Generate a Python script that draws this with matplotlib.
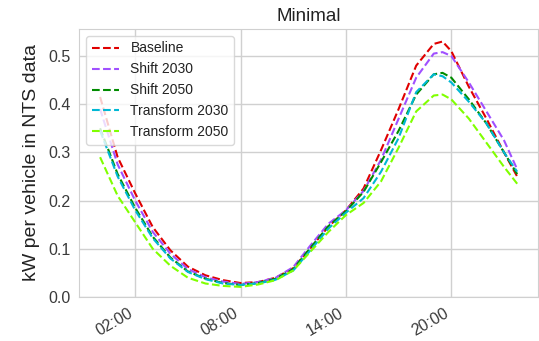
import matplotlib
matplotlib.use("Agg")
import matplotlib.pyplot as plt
import numpy as np

hours = [0, 1, 2, 3, 4, 5, 6, 7, 8, 9, 10, 11, 12, 13, 14, 15, 16, 17, 18, 19, 19.5, 20, 21, 22, 23, 23.75]
baseline = [0.415, 0.29, 0.215, 0.145, 0.097, 0.063, 0.045, 0.035, 0.029, 0.031, 0.040, 0.060, 0.102, 0.146,
            0.180, 0.225, 0.305, 0.390, 0.480, 0.525, 0.530, 0.510, 0.436, 0.370, 0.300, 0.250]
shift_2030 = [0.390, 0.275, 0.200, 0.135, 0.090, 0.058, 0.041, 0.032, 0.027, 0.031, 0.040, 0.062, 0.108, 0.152,
              0.180, 0.220, 0.285, 0.370, 0.455, 0.505, 0.508, 0.500, 0.445, 0.385, 0.325, 0.265]
shift_2050 = [0.350, 0.255, 0.185, 0.125, 0.082, 0.053, 0.038, 0.029, 0.025, 0.029, 0.038, 0.058, 0.103, 0.147,
              0.178, 0.218, 0.280, 0.345, 0.420, 0.462, 0.465, 0.455, 0.410, 0.360, 0.300, 0.255]
transform_2030 = [0.345, 0.250, 0.180, 0.122, 0.080, 0.052, 0.037, 0.028, 0.025, 0.028, 0.036, 0.055, 0.098, 0.142,
                  0.175, 0.205, 0.260, 0.330, 0.425, 0.462, 0.458, 0.445, 0.405, 0.360, 0.300, 0.260]
transform_2050 = [0.290, 0.210, 0.155, 0.100, 0.065, 0.040, 0.028, 0.023, 0.021, 0.026, 0.035, 0.055, 0.095, 0.135,
                  0.170, 0.195, 0.240, 0.310, 0.385, 0.418, 0.420, 0.410, 0.370, 0.320, 0.270, 0.235]

series = [("Baseline", baseline, "#e00000"),
          ("Shift 2030", shift_2030, "#a050ff"),
          ("Shift 2050", shift_2050, "#008c00"),
          ("Transform 2030", transform_2030, "#00b8d4"),
          ("Transform 2050", transform_2050, "#80ff00")]

tick_hours = [2, 8, 14, 20]
tick_labels = ["02:00", "08:00", "14:00", "20:00"]

plt.rcParams['font.family'] = ['Liberation Sans', 'DejaVu Sans']
fig = plt.figure(figsize=(5.39, 3.41), dpi=100)
ax = fig.add_axes([0.1466, 0.129, 0.852, 0.786])
ax.set_facecolor("white")
for name, vals, col in series:
    ax.plot(hours, vals, linestyle="--", color=col, lw=1.5, label=name)

ax.set_ylim(0, 0.556)
ax.set_xlim(hours[0] - 1.2, hours[-1] + 1.2)
ax.set_xticks(tick_hours)
ax.set_xticklabels(tick_labels, rotation=30, ha="right")
ax.set_yticks([0.0, 0.1, 0.2, 0.3, 0.4, 0.5])
ax.grid(True, color="#d0d0d0", lw=1)
ax.set_axisbelow(True)
for s in ax.spines.values():
    s.set_color("#d0d0d0")
ax.tick_params(axis="both", which="both", length=0, labelsize=11.5, labelcolor="#3a3a3a", pad=6)
ax.set_ylabel("kW per vehicle in NTS data", fontsize=14, color="#222222", labelpad=6)
ax.set_title("Minimal", fontsize=13.5, color="#222222", pad=6)
leg = ax.legend(loc="upper left", fontsize=10, frameon=True, framealpha=0.8, edgecolor="#d0d0d0")
for t in leg.get_texts():
    t.set_color("#222222")

fig.savefig("out.png", dpi=100)
